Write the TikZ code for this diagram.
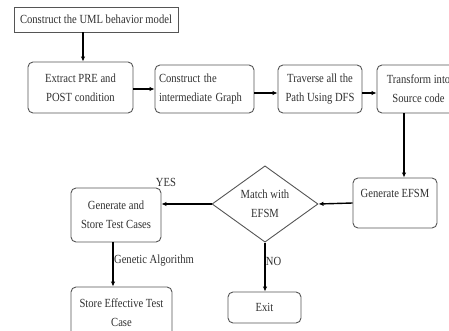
\documentclass[tikz,border=0pt]{standalone}
\usepackage{fontspec}
\usepackage{graphicx}
\setmainfont{Liberation Serif}
\usetikzlibrary{shapes.geometric,arrows.meta}
\definecolor{edge}{HTML}{555555}
\definecolor{ink}{HTML}{303030}
\newcommand{\ys}[1]{\scalebox{1}[1.17]{#1}}
\begin{document}
\begin{tikzpicture}[x=1pt,y=-1pt,
  font=\fontsize{10.6}{19}\selectfont, text=ink,
  box/.style={draw=edge, line width=0.9pt, rounded corners=5pt, inner sep=0pt, align=center},
  sqbox/.style={draw=edge, line width=0.9pt, inner sep=0pt, align=center},
  arr/.style={draw=black, line width=1.4pt, -{Latex[length=5pt,width=4.5pt]}},
  lbl/.style={inner sep=0pt, text=ink}]
\useasboundingbox (0,0) rectangle (449,331);
\begin{scope}
\clip (0,0) rectangle (449,331);
\node[sqbox, minimum width=164pt, minimum height=25pt] (uml) at (96,19.5) {\ys{Construct the UML behavior model}};
\node[box, minimum width=105pt, minimum height=51pt] (pre) at (80.5,87.5) {\ys{Extract PRE and}\\\ys{POST condition}};
\node[box, minimum width=99pt, minimum height=48pt, align=left, text width=91pt] (graph) at (204.5,89) {\ys{Construct the}\\\ys{intermediate Graph}};
\node[box, minimum width=84pt, minimum height=48pt] (dfs) at (320,89) {\ys{Traverse all the}\\\ys{Path Using DFS}};
\node[box, minimum width=83pt, minimum height=48pt] (src) at (418.5,89) {\ys{Transform into}\\\ys{Source code}};
\node[box, minimum width=84pt, minimum height=50pt] (efsm) at (395,203) {\ys{Generate EFSM}\\\mbox{}};
\node[diamond, draw=edge, line width=0.9pt, inner sep=0pt, align=center, minimum width=106pt, minimum height=74pt] (dec) at (265,204) {\ys{Match with}\\\ys{EFSM}};
\node[box, minimum width=90pt, minimum height=54pt] (gen) at (116,215) {\ys{Generate and}\\\ys{Store Test Cases}};
\node[box, minimum width=101pt, minimum height=51pt] (eff) at (121.5,312.5) {\ys{Store Effective Test}\\\ys{Case}};
\node[box, minimum width=73pt, minimum height=31pt] (exit) at (264.5,307.5) {\ys{Exit}};
\end{scope}
\draw[arr] ([xshift=2.5pt]pre.north |- uml.south) -- ([xshift=2.5pt]pre.north);
\draw[arr] ([yshift=-1.5pt]pre.east) -- ([yshift=-1.5pt]pre.east -| graph.west);
\draw[arr] ([yshift=-4pt]graph.east) -- ([yshift=-4pt]graph.east -| dfs.west);
\draw[arr] ([yshift=-4pt]dfs.east) -- ([yshift=-4pt]dfs.east -| src.west);
\draw[arr] ([xshift=-14.5pt]src.south) -- ([xshift=-14.5pt]src.south |- efsm.north);
\draw[arr] (efsm.west) -- (dec.east);
\draw[arr] (dec.west) -- (dec.west -| gen.east);
\draw[arr] ([xshift=-3pt]gen.south) -- ([xshift=-3pt]gen.south |- eff.north);
\draw[arr] (dec.south) -- (dec.south |- exit.north);
\node[lbl] (yes) at (166,182) {\ys{YES}};
\node[lbl] (no) at (273.5,261) {\ys{NO}};
\node[lbl] (ga) at (154,261) {\ys{Genetic Algorithm}};
\end{tikzpicture}
\end{document}
